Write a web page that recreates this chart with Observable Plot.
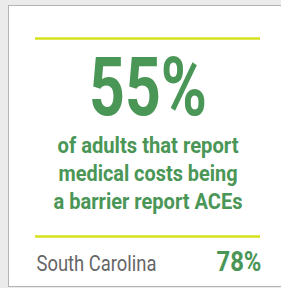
<!DOCTYPE html>
<html><head><meta charset="utf-8">
<script src="https://cdn.jsdelivr.net/npm/d3@7"></script>
<script src="https://cdn.jsdelivr.net/npm/@observablehq/plot@0.6"></script>
<style>html,body{margin:0;padding:0;background:#ebebeb;overflow:hidden}#chart svg{display:block}</style>
</head><body><div id="chart"></div><script>
// ---- data ----
const statValue = [55];
const descriptionLines = ["of adults that report", "medical costs being", "a barrier report ACEs"];
const comparisonLabel = ["South Carolina"];
const comparisonValue = [78];

// ---- layout / style ----
const W = 281, H = 288;
const green = "#4a9656", lime = "#d6e11c", grayText = "#666666";
const card = {x1: 8.5, x2: 320, y1: 5.5, y2: 286.5};
const ruleLeft = 35, ruleRight = 260, ruleYs = [38, 236];
const center = (ruleLeft + ruleRight) / 2;
const statBaseline = 114, descBaseline0 = 152, descStep = 28, compBaseline = 270;

const fitWidths = new Map([
  ["55%", 118],
  ["of adults that report", 181],
  ["medical costs being", 179],
  ["a barrier report ACEs", 189],
  ["South Carolina", 120],
  ["78%", 45]
]);

const desc = descriptionLines.map((t, i) => ({t, i}));

const plot = Plot.plot({
  width: W, height: H, margin: 0,
  x: {domain: [0, W], range: [0, W], axis: null},
  y: {domain: [0, H], range: [0, H], axis: null},
  style: {background: "transparent", fontFamily: "Roboto, sans-serif", overflow: "visible"},
  marks: [
    Plot.rect([card], {x1: "x1", x2: "x2", y1: "y1", y2: "y2", fill: "white", stroke: "#b3b3b3", strokeWidth: 1}),
    Plot.ruleY(ruleYs, {x1: ruleLeft, x2: ruleRight, stroke: lime, strokeWidth: 2.5}),
    Plot.text(statValue, {x: center, y: statBaseline, text: d => `${d}%`, fill: green, fontSize: 81, fontWeight: "bold", lineAnchor: "bottom", textAnchor: "middle"}),
    Plot.text(desc, {x: center, y: d => descBaseline0 + d.i * descStep, text: "t", fill: green, fontSize: 21.5, fontWeight: "bold", lineAnchor: "bottom", textAnchor: "middle"}),
    Plot.text(comparisonLabel, {x: ruleLeft + 1, y: compBaseline, text: d => d, fill: grayText, fontSize: 22, lineAnchor: "bottom", textAnchor: "start"}),
    Plot.text(comparisonValue, {x: ruleRight + 1, y: compBaseline, text: d => `${d}%`, fill: green, fontSize: 27, fontWeight: "bold", lineAnchor: "bottom", textAnchor: "end"})
  ]
});

plot.querySelectorAll("text").forEach(el => {
  const w = fitWidths.get(el.textContent);
  if (w) { el.setAttribute("textLength", w); el.setAttribute("lengthAdjust", "spacingAndGlyphs"); }
});
document.getElementById("chart").append(plot);
</script></body></html>
